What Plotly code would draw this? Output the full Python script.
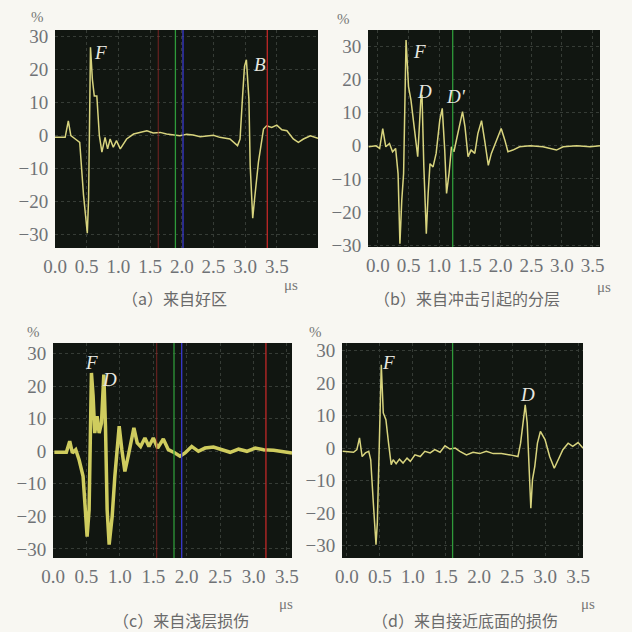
import plotly.graph_objects as go

# ---------------- data ----------------
a_t = [0.0, 0.16, 0.21, 0.25, 0.32, 0.39, 0.45, 0.51, 0.53, 0.56, 0.59, 0.62, 0.66, 0.70, 0.74, 0.79, 0.83, 0.87,
       0.92, 0.97, 1.03, 1.13, 1.24, 1.34, 1.45, 1.55, 1.66, 1.76, 1.87, 1.97, 2.08, 2.18, 2.29, 2.39, 2.5, 2.6,
       2.76, 2.88, 2.92, 2.96, 2.99, 3.02, 3.04, 3.06, 3.08, 3.12, 3.15, 3.21, 3.29, 3.34, 3.42, 3.5, 3.58, 3.66,
       3.76, 3.84, 3.92, 4.03, 4.15]
a_v = [-0.5, -0.5, 4.5, 0, -1, -2, -18, -29.5, -19, 26.8, 17, 12, 12, 0, -5, -0.5, -4, -1,
       -3.5, -1.5, -4, -1, 0.5, 1, 1.5, 0.8, 1, 0.5, 0.2, 0, 0.4, 0.2, -0.3, -0.2, 0.1, -0.5,
       -1, -3, -1, 12, 21, 23, 18, 11, -9, -25, -19, -8, 2, 3, 2.5, 3.2, 1.8, 1.5,
       -1, -2, -1, 0, -0.8]

b_t = [-0.15, -0.03, 0.03, 0.08, 0.13, 0.19, 0.24, 0.29, 0.33, 0.36, 0.39, 0.42, 0.46, 0.50, 0.54, 0.60, 0.65,
       0.70, 0.72, 0.75, 0.79, 0.82, 0.85, 0.90, 0.95, 1.01, 1.05, 1.09, 1.12, 1.16, 1.20, 1.24, 1.28, 1.33,
       1.38, 1.42, 1.47, 1.52, 1.58, 1.63, 1.69, 1.74, 1.80, 1.85, 1.93, 2.01, 2.07, 2.12, 2.20, 2.31, 2.48,
       2.69, 2.91, 3.02, 3.24, 3.46, 3.62]
b_v = [-0.3, 0, -0.8, 5.2, -0.3, 0.7, -1.8, -0.8, -8.4, -29.6, -16.5, -8.4, 32, 17.9, 13.8, 3.7, -3.3,
       13.8, 15.4, -6.4, -26.6, -14.4, -5.4, -6.4, -2.3, 7.8, 11.3, -1.3, -14.4, -8.4, -0.3, -1.8, 1.7, 5.8,
       10.3, 5.8, -3.3, -1.3, -2.3, 3.7, 7.6, 1.7, -5.9, -2.3, 1.7, 5.2, 1.7, -1.8, -1.3, -0.3, 0,
       -0.3, -1.3, -0.3, 0, -0.3, 0]

c_t = [0.02, 0.2, 0.25, 0.29, 0.34, 0.39, 0.45, 0.51, 0.54, 0.575, 0.60, 0.625, 0.66, 0.69, 0.725, 0.76,
       0.785, 0.81, 0.84, 0.885, 0.925, 0.96, 0.99, 1.03, 1.075, 1.125, 1.175, 1.21, 1.26, 1.31, 1.375,
       1.435, 1.5, 1.565, 1.65, 1.725, 1.825, 1.9, 1.975, 2.075, 2.175, 2.275, 2.4, 2.525, 2.65, 2.775,
       2.9, 3.025, 3.15, 3.3, 3.45, 3.575]
c_v = [-0.3, -0.3, 3.1, -0.5, 0.5, -2.6, -7.7, -26.2, -18, 24.1, 17, 5.6, 10.8, 5.6, 8.7, 23.6,
       7.7, -18, -28.7, -20, -7.7, 2.6, 7.7, 0.5, -6.2, -1.5, 3.6, 7.2, 2.6, 1.5, 4.1,
       1.5, 4.1, 1, 3.8, 0.5, -0.5, -1.5, -0.5, 1.5, 0, 1, 1.3, 0.5, -0.3, 0.7,
       0, 1, 0.5, 0.3, 0, -0.5]

d_t = [-0.065, 0.1, 0.15, 0.19, 0.23, 0.28, 0.33, 0.36, 0.40, 0.44, 0.46, 0.49, 0.52, 0.55, 0.59, 0.63,
       0.67, 0.70, 0.745, 0.795, 0.85, 0.91, 0.96, 1.03, 1.11, 1.18, 1.26, 1.33, 1.41, 1.485, 1.56, 1.64,
       1.71, 1.81, 1.91, 2.01, 2.11, 2.215, 2.34, 2.47, 2.59, 2.63, 2.67, 2.70, 2.73, 2.76, 2.785, 2.81,
       2.845, 2.885, 2.93, 3.0, 3.07, 3.14, 3.2, 3.27, 3.35, 3.42, 3.5, 3.575]
d_v = [-1, -1.3, -0.5, 3.1, -2.6, -1.5, -1, -3.6, -17, -29.7, -23, 6.7, 25.6, 10.8, 8.7, 1.5,
       -5.1, -3.6, -4.8, -3.4, -4.6, -3.1, -4.1, -2.1, -2.6, -1, -1.5, -0.5, -1.3, 0.7, -0.3, 0,
       -1, -2.1, -1.3, -1.7, -1, -1.7, -1.7, -2.1, -2.6, 1.5, 8.7, 13.3, 7.7, -8.7, -18.5, -9.7,
       -5.6, 1.5, 5.1, 2.6, -2.6, -6.2, -3.6, -0.5, 1.5, 0.5, 1.7, 0]

x_ticks = [0.0, 0.5, 1.0, 1.5, 2.0, 2.5, 3.0, 3.5]
x_tick_text = ["0.0", "0.5", "1.0", "1.5", "2.0", "2.5", "3.0", "3.5"]
y_ticks = [-30, -20, -10, 0, 10, 20, 30]
y_tick_text = ["\u221230", "\u221220", "\u221210", "0", "10", "20", "30"]

captions = ["（a）来自好区", "（b）来自冲击引起的分层", "（c）来自浅层损伤", "（d）来自接近底面的损伤"]

# vertical marker lines per panel: (position, colour)
a_lines = [(1.63, "rgba(150,40,40,0.6)"), (1.9, "#2f9a3a"), (2.02, "#3a3ad0"), (3.35, "#c02828")]
b_lines = [(1.22, "#2f9a3a")]
c_lines = [(1.55, "rgba(150,40,40,0.6)"), (1.81, "#2f9a3a"), (1.925, "#3a3ad0"), (3.185, "#c02828")]
d_lines = [(1.6, "#2f9a3a")]

# peak labels per panel: (t, value, text)
a_labels = [(0.71, 25.3, "F"), (3.23, 21.7, "B")]
b_labels = [(0.68, 28.5, "F"), (0.76, 16.4, "D"), (1.28, 14.8, "D'")]
c_labels = [(0.575, 27.2, "F"), (0.85, 22.0, "D")]
d_labels = [(0.63, 26.2, "F"), (2.74, 16.4, "D")]

# ---------------- layout geometry ----------------
W = H = 632
panels = [
    dict(t=a_t, v=a_v, lines=a_lines, labels=a_labels, px=(55, 318), py=(30, 248), xr=[0, 4.15], yr=[-34, 32],
         width=1.5, pct=(37, 17), us=(291, 285), cap=(175, 298)),
    dict(t=b_t, v=b_v, lines=b_lines, labels=b_labels, px=(368, 600), py=(30, 247), xr=[-0.16, 3.62], yr=[-30.6, 35],
         width=1.5, pct=(343, 19), us=(604, 287), cap=(467, 298)),
    dict(t=c_t, v=c_v, lines=c_lines, labels=c_labels, px=(53, 292), py=(343, 558), xr=[0, 3.575], yr=[-32.8, 33.3],
         width=3.5, pct=(33, 332), us=(286, 604), cap=(181, 620)),
    dict(t=d_t, v=d_v, lines=d_lines, labels=d_labels, px=(342, 583), py=(343, 558), xr=[-0.075, 3.575], yr=[-33.8, 32.3],
         width=1.5, pct=(315, 332), us=(588, 604), cap=(465, 620)),
]

SERIF = "Liberation Serif"
fig = go.Figure()
tick_font = dict(family=SERIF, size=19, color="#6f7276")
shapes = []
annotations = []

for i, p in enumerate(panels, start=1):
    xa = "x" if i == 1 else f"x{i}"
    ya = "y" if i == 1 else f"y{i}"
    color = "#cfcc5e" if i == 3 else "#d8d47e"
    fig.add_trace(go.Scatter(x=p["t"], y=p["v"], mode="lines", xaxis=xa, yaxis=ya,
                             line=dict(color=color, width=p["width"]), showlegend=False,
                             hoverinfo="skip"))
    xd = [p["px"][0] / W, p["px"][1] / W]
    yd = [1 - p["py"][1] / H, 1 - p["py"][0] / H]
    axname = "xaxis" if i == 1 else f"xaxis{i}"
    ayname = "yaxis" if i == 1 else f"yaxis{i}"
    fig.update_layout(**{
        axname: dict(domain=xd, range=p["xr"], anchor=ya, tickvals=x_ticks, ticktext=x_tick_text,
                     showgrid=True, gridcolor="#363c36", griddash="dot", gridwidth=1, automargin=False,
                     zeroline=False, showline=False, tickfont=tick_font, ticks="outside",
                     ticklen=1, tickcolor="rgba(0,0,0,0)", fixedrange=True),
        ayname: dict(domain=yd, range=p["yr"], anchor=xa, tickvals=y_ticks, ticktext=y_tick_text,
                     showgrid=True, gridcolor="#363c36", griddash="dot", gridwidth=1, automargin=False,
                     zeroline=False, showline=False, tickfont=tick_font, ticks="outside",
                     ticklen=2, tickcolor="rgba(0,0,0,0)", fixedrange=True),
    })
    # dark plot background
    shapes.append(dict(type="rect", xref=f"{xa} domain", yref=f"{ya} domain", x0=0, x1=1, y0=0, y1=1,
                       fillcolor="#111611", line=dict(width=0), layer="below"))
    for pos, col in p["lines"]:
        shapes.append(dict(type="line", xref=xa, yref=f"{ya} domain", x0=pos, x1=pos, y0=0, y1=1,
                           line=dict(color=col, width=1.3), layer="above"))
    for t, v, txt in p["labels"]:
        annotations.append(dict(x=t, y=v, xref=xa, yref=ya, text=f"<i>{txt}</i>", showarrow=False,
                                xanchor="center", yanchor="middle",
                                font=dict(family=SERIF, size=19, color="#e8e8e0")))
    annotations.append(dict(x=p["pct"][0] / W, y=1 - p["pct"][1] / H, xref="paper", yref="paper",
                            text="%", showarrow=False, xanchor="center", yanchor="middle",
                            font=dict(family=SERIF, size=15, color="#777")))
    annotations.append(dict(x=p["us"][0] / W, y=1 - p["us"][1] / H, xref="paper", yref="paper",
                            text="\u03bcs", showarrow=False, xanchor="center", yanchor="middle",
                            font=dict(family=SERIF, size=15, color="#777")))
    annotations.append(dict(x=p["cap"][0] / W, y=1 - p["cap"][1] / H, xref="paper", yref="paper",
                            text=captions[i - 1], showarrow=False, xanchor="center", yanchor="middle",
                            font=dict(family="Noto Sans CJK SC", size=16, color="#6a6a6a")))

fig.update_layout(width=W, height=H, margin=dict(l=0, r=0, t=0, b=0),
                  paper_bgcolor="#f8f7f2", plot_bgcolor="#111611",
                  shapes=shapes, annotations=annotations)

fig.write_html("out.html", config={"displayModeBar": False},
               post_script="document.body.style.margin='0';")
